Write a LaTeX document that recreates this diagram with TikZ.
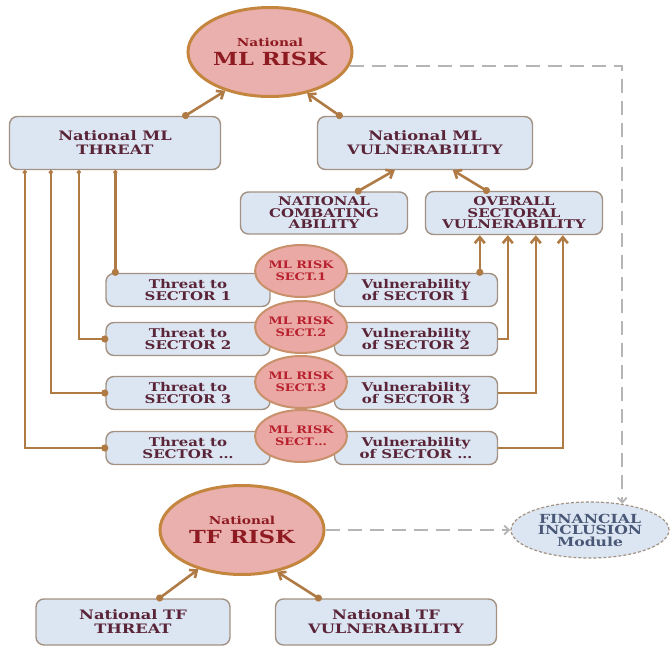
\documentclass[tikz,border=0pt]{standalone}
\usepackage{fontspec}
\setmainfont{DejaVu Serif}[FakeStretch=1.25]
\usepackage{tikz}
\usetikzlibrary{arrows.meta, positioning, shapes.geometric, calc}

\definecolor{boxfill}{HTML}{DCE6F2}
\definecolor{boxline}{HTML}{A39283}
\definecolor{boxtext}{HTML}{5A2438}
\definecolor{riskfill}{HTML}{EAB0AD}
\definecolor{riskline}{HTML}{C4853F}
\definecolor{risktext}{HTML}{8E1B22}
\definecolor{sectfill}{HTML}{EAA9A4}
\definecolor{sectline}{HTML}{C8906B}
\definecolor{secttext}{HTML}{B8202E}
\definecolor{linkcol}{HTML}{B07A45}
\definecolor{dashcol}{HTML}{B5B5B5}
\definecolor{fitext}{HTML}{4A5878}

\tikzset{
  block/.style={
    rectangle,
    draw=boxline,
    line width=1.4pt,
    fill=boxfill,
    rounded corners=8pt,
    text=boxtext,
    align=center,
    inner sep=0pt
  },
  bigbox/.style={font=\bfseries\fontsize{13}{14}\selectfont},
  midbox/.style={font=\bfseries\fontsize{12}{11.5}\selectfont},
  sectbox/.style={font=\bfseries\fontsize{12}{12.5}\selectfont},
  risk/.style={
    ellipse,
    draw=riskline,
    line width=3pt,
    fill=riskfill,
    text=risktext,
    align=center,
    inner sep=0pt,
    minimum width=164pt,
    minimum height=89pt,
    font=\bfseries\fontsize{11}{19}\selectfont
  },
  sectrisk/.style={
    ellipse,
    draw=sectline,
    line width=2pt,
    fill=sectfill,
    text=secttext,
    align=center,
    inner sep=0pt,
    minimum width=88pt,
    minimum height=52pt,
    font=\bfseries\fontsize{10.3}{12}\selectfont
  },
  fiell/.style={
    ellipse,
    draw=boxline,
    line width=1.2pt,
    dash pattern=on 3pt off 2pt,
    fill=boxfill,
    text=fitext,
    align=center,
    inner sep=0pt,
    minimum width=158pt,
    minimum height=56pt,
    font=\bfseries\fontsize{12.5}{11.5}\selectfont
  },
  link/.style={
    draw=linkcol,
    line width=2.6pt,
    shorten <=-3pt,
    {Circle[length=7pt]}-{Straight Barb[length=6pt,width=10pt]}
  },
  uplink/.style={
    draw=linkcol,
    line width=2.6pt,
    -{Straight Barb[length=6pt,width=10pt]}
  },
  tie/.style={
    draw=linkcol,
    line width=2.6pt,
    shorten <=-3pt,
    {Circle[length=7pt]}-{Circle[length=4pt]}
  },
  dline/.style={
    draw=dashcol,
    line width=1.8pt,
    dash pattern=on 14pt off 8pt,
    -{Straight Barb[length=5pt,width=9pt]}
  }
}

\begin{document}
\begin{tikzpicture}[x=1pt, y=-1pt]
  \useasboundingbox (0,0) rectangle (670,648);

  \node[risk] (mlrisk) at (270,52) {National\\{\fontsize{18}{19}\selectfont ML RISK}};

  \node[block, bigbox, minimum width=211pt, minimum height=53pt] (mlthreat) at (115,143) {National ML\\THREAT};
  \node[block, bigbox, minimum width=215pt, minimum height=53pt] (mlvuln) at (425,143) {National ML\\VULNERABILITY};

  \node[block, midbox, minimum width=167pt, minimum height=42pt] (combat) at (324,213) {NATIONAL\\COMBATING\\ABILITY};
  \node[block, midbox, minimum width=177pt, minimum height=43pt] (overall) at (514,213) {OVERALL\\SECTORAL\\VULNERABILITY};

  \foreach \i/\yb/\yc/\s/\c in {1/290/271/1/.1, 2/339/327/2/.2, 3/393/382/3/.3, 4/448/436/\dots/\dots} {
    \node[block, sectbox, minimum width=164pt, minimum height=33pt] (st\i) at (188,\yb) {Threat to\\SECTOR \s};
    \node[block, sectbox, minimum width=163pt, minimum height=33pt] (sv\i) at (416,\yb) {Vulnerability\\of SECTOR \s};
    \node[sectrisk] (sr\i) at (301,\yc) {ML RISK\\SECT\c};
  }

  \node[risk] (tfrisk) at (242,530) {National\\{\fontsize{18}{19}\selectfont TF RISK}};
  \node[fiell] (fi) at (590,530) {FINANCIAL\\INCLUSION\\Module};

  \node[block, bigbox, minimum width=194pt, minimum height=46pt] (tfthreat) at (133,622) {National TF\\THREAT};
  \node[block, bigbox, minimum width=221pt, minimum height=46pt] (tfvuln) at (386,622) {National TF\\VULNERABILITY};

  \draw[link] ([xshift=-36pt]mlthreat.north east) -- (mlrisk.221);
  \draw[link] ([xshift=23pt]mlvuln.north west) -- (mlrisk.312);
  \draw[link] ([xshift=118pt]combat.north west) -- ([xshift=78pt]mlvuln.south west);
  \draw[link] ([xshift=62pt]overall.north west) -- ([xshift=136pt]mlvuln.south west);

  \coordinate (ta1) at ([xshift=10pt]st1.north west);
  \draw[tie] (ta1) -- (ta1 |- mlthreat.south);
  \foreach \i/\dx in {2/70, 3/42, 4/16}
    \draw[tie] (st\i.west) -| ([xshift=\dx pt]mlthreat.south west);

  \foreach \i/\dx in {1/55, 2/83, 3/111, 4/138}
    \coordinate (va\i) at ([xshift=\dx pt]overall.south west);
  \draw[link] (va1 |- sv1.north) -- (va1);
  \foreach \i in {2,3,4}
    \draw[uplink] (sv\i.east) -| (va\i);

  \draw[link] ([xshift=124pt]tfthreat.north west) -- (tfrisk.222);
  \draw[link] ([xshift=44pt]tfvuln.north west) -- (tfrisk.310);

  \draw[dline] (mlrisk.-10) -| (fi.39);
  \draw[dline] (tfrisk) -- (fi);
\end{tikzpicture}
\end{document}
